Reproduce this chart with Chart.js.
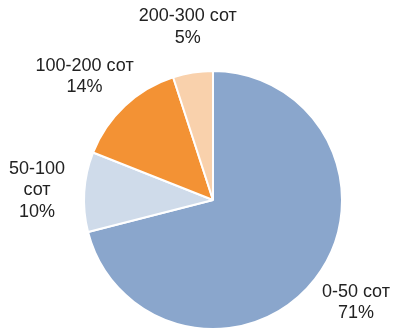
<!DOCTYPE html>
<html>
<head>
<meta charset="utf-8">
<script src="https://cdn.jsdelivr.net/npm/chart.js@4.4.1/dist/chart.umd.min.js"></script>
<style>
  html, body { margin: 0; padding: 0; background: #fff; overflow: hidden; }
  #wrap { width: 404px; height: 330px; position: relative; }
</style>
</head>
<body>
<div id="wrap"><canvas id="pie"></canvas></div>
<script>
// categories and shares (%)
const categories = ['0-50 сот', '50-100 сот', '100-200 сот', '200-300 сот'];
const shares = [71, 10, 14, 5];
const colors = ['#8AA6CC', '#CFDBEA', '#F39234', '#F9D1AC'];

const FONT = '18px "Liberation Sans", Arial, sans-serif';
const LINE_H = 21.5;
const EDGE = 9;

// outside labels, like the spreadsheet "outside end" style
const outsideLabels = {
    id: 'outsideLabels',
    afterDraw(chart) {
        const ctx = chart.ctx;
        const arcs = chart.getDatasetMeta(0).data;
        ctx.save();
        ctx.font = FONT;
        ctx.fillStyle = '#222';
        ctx.textAlign = 'center';
        ctx.textBaseline = 'middle';
        arcs.forEach((arc, i) => {
            const mid = (arc.startAngle + arc.endAngle) / 2;
            const c = Math.cos(mid), s = Math.sin(mid);
            const a = arc.outerRadius + 25;
            let lines = [categories[i], shares[i] + '%'];
            let w = Math.max(...lines.map(t => ctx.measureText(t).width));
            let h = lines.length * LINE_H;
            let cx = arc.x + c * a + (w / 2) * c * Math.abs(c);
            if (cx - w / 2 < EDGE || cx + w / 2 > chart.width - EDGE) {
                // wrap the category text on spaces
                lines = categories[i].split(' ').concat([shares[i] + '%']);
                w = Math.max(...lines.map(t => ctx.measureText(t).width));
                h = lines.length * LINE_H;
                cx = Math.min(Math.max(cx, EDGE + w / 2), chart.width - EDGE - w / 2);
            }
            const cy = arc.y + s * a + (h / 2) * s * Math.abs(s);
            const top = cy - (lines.length - 1) * LINE_H / 2;
            lines.forEach((t, k) => ctx.fillText(t, cx, top + k * LINE_H));
        });
        ctx.restore();
    }
};

new Chart(document.getElementById('pie').getContext('2d'), {
    type: 'pie',
    data: {
        labels: categories,
        datasets: [{
            data: shares,
            backgroundColor: colors,
            borderColor: '#ffffff',
            borderWidth: 2
        }]
    },
    options: {
        responsive: true,
        maintainAspectRatio: false,
        animation: false,
        layout: { padding: { top: 70, bottom: 0, left: 83, right: 61 } },
        plugins: {
            legend: { display: false },
            tooltip: { enabled: false }
        }
    },
    plugins: [outsideLabels]
});
</script>
</body>
</html>
